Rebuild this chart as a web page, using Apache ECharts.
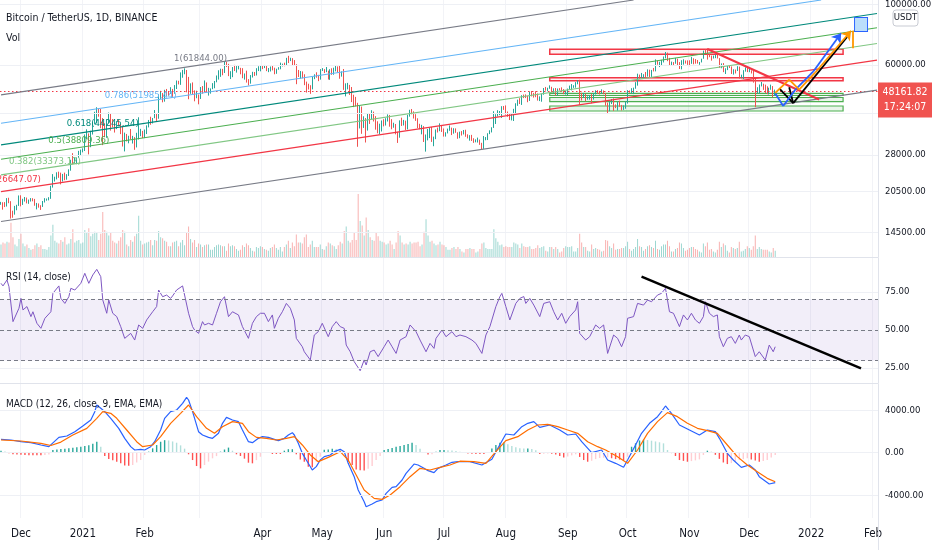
<!DOCTYPE html>
<html><head><meta charset="utf-8">
<script src="https://cdn.jsdelivr.net/npm/echarts@6/dist/echarts.min.js"></script>
<style>html,body{margin:0;padding:0;background:#fff}#c{width:932px;height:550px}</style>
</head><body><div id="c"></div>
<script>
// ---------- categories ----------
const startDate = '2020-11-21';
const dayCount = 440;
const monthNames = ['Jan','Feb','Mar','Apr','May','Jun','Jul','Aug','Sep','Oct','Nov','Dec'];
const hiddenMonthLabels = ['2021-03-01'];

// ---------- daily candles (thousand USDT) ----------
const firstOpenK = 18.68;
const closeK = [
18.72,18.40,18.37,19.16,18.72,17.15,17.14,17.72,18.18,19.70,
18.76,19.21,19.42,18.65,19.15,19.36,19.17,18.32,18.55,18.25,18.03,18.80,19.17,19.27,19.43,21.34,22.80,23.11,23.82,23.45,22.71,23.81,23.23,23.72,24.69,26.49,26.28,27.08,27.38,28.88,28.92,
29.33,32.18,33.00,31.99,33.95,36.77,39.41,40.58,40.09,38.15,35.40,34.05,37.37,39.14,36.77,36.01,35.80,36.63,35.89,35.47,30.85,32.95,32.08,32.26,32.25,32.51,30.40,33.47,34.26,34.26,33.11,
33.52,35.51,37.47,36.93,38.29,39.26,38.87,46.45,46.51,44.84,47.97,47.41,47.23,48.59,47.93,49.16,52.15,51.68,55.89,55.92,57.41,54.20,48.89,49.68,47.02,46.11,46.16,45.24,
49.61,48.45,50.35,48.37,48.75,48.88,50.97,52.38,54.88,55.86,57.80,57.23,61.19,59.00,55.63,56.90,58.91,57.66,58.08,58.10,57.35,54.10,54.34,52.30,51.30,55.06,55.84,55.78,57.63,58.77,58.80,
58.73,58.99,57.06,58.20,59.13,57.99,56.00,58.09,58.10,59.77,59.96,59.84,63.59,62.96,63.18,61.34,60.01,56.15,55.66,56.47,53.80,51.70,51.19,50.10,49.06,54.03,55.04,54.88,53.58,57.80,
57.83,56.63,57.17,53.20,57.44,56.40,57.36,58.84,58.28,55.82,56.67,49.38,49.70,49.90,46.76,46.43,43.59,42.91,37.00,40.55,37.29,37.50,34.77,38.71,38.40,39.29,38.55,35.66,34.66,35.68,37.34,
36.69,37.57,39.19,36.85,35.52,35.80,33.55,33.38,37.39,36.69,37.34,35.55,39.02,40.52,40.14,38.35,38.09,35.82,35.48,35.60,31.68,32.51,33.68,34.66,31.59,32.28,34.70,34.49,35.91,35.04,
33.54,33.82,34.67,35.29,33.69,34.22,33.86,32.88,33.81,33.51,34.26,33.09,32.73,32.82,31.78,31.42,31.52,31.78,30.84,29.79,32.14,32.31,33.58,34.29,35.40,37.28,39.46,40.00,40.02,42.21,41.46,
39.85,39.15,38.21,39.72,40.87,42.84,44.62,43.83,46.29,45.60,45.55,44.43,47.83,47.10,47.05,45.98,44.69,44.74,46.76,49.34,48.87,49.29,49.55,47.71,48.99,46.85,49.07,48.90,48.81,46.99,47.11,
48.85,49.25,49.94,49.94,51.77,52.66,46.86,46.05,46.40,44.85,45.15,46.06,44.96,47.11,48.15,47.75,47.30,48.31,47.26,42.99,40.69,43.57,44.89,42.84,42.70,43.21,42.17,41.03,41.52,43.82,
48.14,47.63,48.20,49.22,51.47,55.32,53.79,53.95,54.95,54.66,57.47,56.00,57.37,57.35,61.67,60.88,61.53,62.04,64.26,65.99,62.21,60.69,61.30,60.85,63.08,60.33,58.45,60.59,62.25,61.85,61.30,
61.00,63.23,62.94,61.45,61.01,61.53,63.27,67.53,66.93,64.88,64.81,64.15,64.40,65.50,63.62,60.10,60.36,56.90,58.08,59.70,58.72,56.28,57.57,57.16,58.96,53.73,54.72,57.27,57.81,56.95,
57.18,56.48,53.60,49.15,49.40,50.44,50.59,50.47,47.55,47.14,49.39,50.09,46.70,48.16182];
const highK = [
18.81,18.75,18.77,19.42,19.48,18.92,17.46,18.18,18.35,19.86,
19.89,19.31,19.60,19.51,19.18,19.42,19.40,19.29,18.64,18.56,18.28,18.95,19.41,19.35,19.57,21.56,23.80,23.28,24.17,24.30,24.10,23.84,24.10,23.79,24.79,26.87,28.42,27.41,27.41,28.99,29.30,
29.60,33.30,34.79,33.60,34.36,36.94,40.37,41.95,41.38,41.35,38.27,36.63,37.85,40.10,39.70,37.95,36.85,37.30,37.85,36.40,35.60,33.83,33.45,32.94,34.88,32.92,32.56,33.78,38.53,34.93,34.33,
34.72,35.98,37.66,38.71,38.31,40.96,39.70,46.80,48.20,47.31,48.63,48.98,48.15,49.71,49.00,50.62,52.62,52.50,56.37,57.56,58.35,57.53,54.25,51.37,51.77,48.42,48.25,46.75,
49.79,50.20,52.64,51.77,49.45,49.20,51.45,52.40,54.90,57.39,58.15,58.06,61.84,61.68,60.60,56.94,58.98,60.07,59.47,59.88,58.59,58.42,55.84,57.20,53.23,55.10,56.64,56.56,58.41,59.37,59.80,
59.47,60.03,59.75,58.49,59.25,59.48,58.65,58.15,58.90,61.22,60.69,61.20,63.77,64.85,63.80,63.59,62.57,60.40,57.53,57.00,56.84,55.48,52.13,51.20,50.55,54.36,55.46,56.43,55.20,57.96,
58.45,57.93,58.98,57.20,57.91,58.36,58.65,59.50,59.30,59.60,56.85,58.00,51.37,51.57,50.70,49.80,46.64,45.80,43.55,42.45,42.20,38.85,38.27,39.92,39.80,40.90,40.41,38.90,37.24,36.49,37.50,
37.90,38.23,39.48,39.29,37.92,36.79,36.40,34.07,37.53,38.40,37.68,37.44,39.32,41.06,41.33,40.53,39.56,38.20,36.46,36.14,35.75,33.30,34.88,35.30,35.49,32.70,34.75,35.30,36.60,36.10,
35.04,33.94,35.00,35.96,35.29,35.12,35.06,33.91,34.10,34.27,34.59,34.67,33.34,33.11,33.19,32.25,31.95,32.43,31.90,31.03,32.86,32.58,33.65,34.50,35.40,40.55,39.54,40.90,40.63,42.32,42.40,
42.60,40.45,39.78,39.97,41.39,43.39,44.74,45.31,46.45,46.70,46.78,46.22,47.89,48.14,47.37,48.05,47.16,46.00,47.09,49.38,49.82,49.50,50.50,49.88,49.25,49.37,49.17,49.31,49.66,48.91,48.24,
49.15,50.40,51.05,50.56,51.90,52.78,52.92,47.40,47.36,47.03,45.99,46.45,46.88,47.25,48.45,48.49,48.18,48.83,48.37,47.34,43.64,44.00,44.98,45.20,42.97,43.92,44.35,42.79,42.60,44.13,
48.50,48.36,49.30,49.53,51.89,55.75,55.33,56.10,55.49,56.56,57.84,57.68,57.55,58.53,62.93,62.35,61.72,62.68,64.49,67.00,66.64,63.73,61.75,61.49,63.73,63.29,61.50,62.50,62.98,62.36,62.40,
62.44,64.27,63.52,63.09,62.61,61.57,63.29,67.79,68.53,69.00,65.60,65.00,64.99,65.59,66.40,63.62,60.82,60.98,58.35,59.86,60.00,59.29,57.87,57.75,59.40,59.20,55.28,57.44,58.86,59.18,
59.04,57.38,57.60,53.89,49.70,50.87,51.94,51.20,50.80,50.10,49.50,50.80,50.20,48.70];
const lowK = [
18.35,17.61,18.00,18.08,18.60,16.33,16.44,16.88,17.52,18.18,
18.11,18.33,18.86,18.57,18.50,18.86,18.90,18.20,17.65,17.91,17.57,18.02,18.71,19.00,19.05,19.30,21.23,22.35,22.75,23.06,21.82,22.35,22.60,22.70,23.43,24.50,25.86,26.10,25.88,27.32,27.85,
28.62,28.95,32.00,28.13,29.90,33.29,36.30,36.57,38.72,35.11,30.42,32.53,32.38,36.70,34.41,35.36,33.85,34.85,35.75,33.40,30.07,28.85,31.39,30.90,31.91,30.84,29.24,29.84,31.92,32.83,32.30,
32.30,33.42,35.36,36.16,36.57,38.22,37.35,38.05,45.02,43.73,43.98,46.12,46.20,47.00,45.78,47.03,48.95,50.90,50.71,53.86,55.48,47.60,44.89,47.00,46.92,44.11,45.27,43.00,
45.00,47.05,48.10,47.50,46.30,47.07,48.88,49.27,51.83,53.03,54.27,55.01,56.08,58.96,54.60,53.27,54.12,57.02,56.26,57.82,55.45,53.65,53.00,51.70,50.43,51.23,53.96,54.69,54.90,57.00,56.87,
57.93,58.45,56.96,56.48,56.79,57.33,55.47,55.70,57.66,57.87,59.28,59.37,59.83,61.00,62.02,60.00,59.60,51.00,54.20,53.41,53.60,50.58,47.50,48.75,47.00,48.80,53.22,53.87,52.33,53.01,
57.05,56.03,56.48,53.05,52.90,55.20,55.25,56.87,56.24,53.40,54.37,48.60,46.00,48.80,46.55,43.83,42.00,42.26,30.00,35.05,33.49,35.20,31.11,34.42,36.42,37.80,37.18,34.68,33.63,33.38,34.15,
35.67,35.92,37.17,35.57,34.80,35.26,33.34,31.00,32.40,35.80,35.94,34.60,34.76,38.73,39.50,38.12,37.37,35.13,34.82,33.34,31.25,28.80,31.68,32.29,31.27,30.15,32.00,33.86,34.24,34.03,
32.71,32.71,33.60,34.36,33.13,33.53,33.77,32.11,32.26,33.00,33.31,32.66,32.20,31.60,31.53,31.02,31.16,31.10,30.50,29.28,29.48,31.71,31.77,33.40,33.88,35.20,36.40,38.77,39.24,38.32,41.02,
39.42,38.69,37.64,37.51,37.33,39.85,42.45,43.10,42.78,45.33,45.34,43.77,44.25,45.97,45.52,45.67,44.38,44.20,43.96,46.65,48.28,48.03,49.05,47.60,47.15,46.36,46.37,48.37,47.78,46.86,46.71,
46.51,48.59,48.40,49.43,49.50,50.95,42.84,44.41,45.51,44.14,44.72,44.74,43.37,44.75,46.72,47.00,46.75,47.04,46.84,42.50,39.60,40.57,43.09,40.68,41.65,40.80,42.10,40.83,41.01,41.41,
43.28,47.43,47.12,46.89,49.06,50.38,53.36,53.62,53.66,54.10,54.41,53.88,54.25,56.82,56.85,60.15,58.96,59.84,61.32,63.48,62.00,60.00,59.66,59.51,60.65,59.82,58.00,57.82,60.17,60.72,60.07,
59.41,60.62,60.38,60.68,60.72,60.10,61.32,63.27,66.22,62.82,64.10,62.28,63.38,63.58,63.40,58.57,58.37,56.47,55.60,57.46,58.52,55.63,55.32,55.84,57.01,53.50,53.62,53.26,56.72,56.50,
56.46,55.84,51.68,42.00,47.10,47.10,50.04,48.60,47.32,46.85,46.75,48.64,45.67,46.30];

// ---------- volume (thousand BTC) ----------
const volumeK = [
70,80,75,85,80,190,110,70,60,100,
130,75,60,70,50,40,45,65,75,55,65,45,45,40,55,120,180,90,80,75,95,85,110,70,75,100,155,80,90,95,75,
80,150,135,160,115,130,140,135,95,130,250,150,140,120,135,90,80,75,90,110,150,140,70,60,95,85,115,130,230,90,70,
75,80,85,95,65,95,90,145,110,105,90,85,60,60,80,85,90,60,80,95,65,135,170,100,80,95,55,75,
70,55,65,70,70,40,40,55,65,70,65,60,60,35,75,60,65,60,45,35,40,65,55,75,65,50,35,30,55,50,60,
55,45,40,35,50,55,70,50,40,55,30,55,70,90,50,80,60,125,80,80,75,110,125,55,70,90,55,55,55,70,
45,40,60,80,75,65,60,45,65,85,75,145,170,90,80,95,135,95,350,200,175,120,220,150,110,95,90,135,115,90,85,
80,70,75,90,70,45,80,145,120,80,70,75,70,85,75,80,80,85,60,70,140,210,120,85,90,75,65,70,85,70,
65,55,40,40,50,55,45,55,45,30,25,45,45,50,45,45,25,30,45,75,80,50,45,45,45,155,105,85,65,70,55,
60,55,55,55,80,75,70,50,75,60,55,55,60,45,45,50,65,50,55,60,35,30,55,55,45,55,45,25,30,50,60,
55,55,60,30,30,50,130,80,55,55,35,30,70,45,50,45,40,30,35,95,90,60,50,75,40,45,45,50,50,60,
85,45,35,45,55,100,60,55,35,45,60,65,55,50,90,45,40,60,70,70,90,60,30,30,45,50,80,75,50,35,40,
50,55,55,45,40,30,25,75,60,80,40,45,30,25,40,85,55,75,65,35,25,55,50,45,50,85,30,35,45,60,
50,40,60,120,45,55,45,40,40,40,30,25,50,35];

// ---------- RSI (14, close) ----------
const rsiDay = [0,1,3,4,6,7,9,10,11,13,15,16,18,20,22,25,26,29,30,32,34,35,37,40,42,44,46,48,50,51,53,54,56,58,60,62,65,67,69,71,73,76,78,79,81,83,85,86,88,91,92,94,96,97,99,101,102,104,106,108,110,112,114,116,119,121,124,126,128,130,132,134,136,137,139,141,143,145,147,148,151,152,155,157,159,161,162,164,166,168,170,172,173,175,177,180,182,183,185,187,189,192,194,196,198,200,203,205,208,210,213,215,217,218,221,223,226,228,230,233,236,238,241,243,245,248,250,251,253,255,258,260,262,263,265,267,270,272,275,277,279,281,283,285,288,289,290,293,295,298,300,302,304,307,309,311,313,314,317,319,322,324,326,329,331,333,335,337,340,342,344,346,348,350,352,353,355,357,359,360,362,364,366,368,370,371,373,375,378,380,383,385,387,388];
const rsiValue = [80.7,79,82.9,78.5,55.5,56.6,64.3,70.8,63.2,65.4,58.8,62,54.4,51.1,57.7,62,74.1,79,70.8,67.5,71.9,77.4,76.3,80.7,87.3,80.7,86.2,89.9,85.1,69.7,61,69.7,61,58.8,52.2,44.5,47.8,43.4,53.3,51.1,56.6,62,65.4,76.3,71.9,73,70.8,72.4,76.3,79,79.6,61,52.2,50,47.8,55.5,53.3,54.4,53.3,61,68.6,71.9,58.8,62,59.9,52.2,44.5,54.4,58.8,61,61,55.5,59.9,51.1,57.7,62,67.5,64.3,56.6,44.5,39,35.7,30.3,46.7,48.9,54.4,53.3,45.6,52.2,55.5,52.2,51.1,40.1,35.7,29.2,23.2,30.3,27,35.7,36.8,32.5,39,43.4,39,34.6,43.4,45.6,53.3,48.9,43.4,35.7,41.2,37.9,44.5,50,45.6,48.9,45.6,46.7,45.6,43.4,41.2,34.6,46.7,52.2,65.4,71.9,74.1,65.4,56.6,67.5,70.8,72,67.5,70.8,66.4,58.8,67.5,68.6,62,56.6,61,54.4,58.8,63.2,68.6,47.8,43.4,45.6,53.3,51.1,53.3,34.6,46.7,44.5,39,45.6,57.7,58.8,67.5,66.4,69.7,68.6,73,74.1,77.4,62,61,52.2,59.9,56.6,61,56.6,54.4,58.8,68.6,61,58.8,59.9,45.6,39,44.5,45.6,41.2,46.7,43.4,46.7,45.6,32.5,35.7,30.3,40.1,35.7,39];

// ---------- MACD (12, 26, 9) ----------
const macdDay = [0,5,10,15,20,24,29,33,37,41,45,47,48,50,52,55,59,62,65,67,70,72,75,77,80,82,85,88,91,93,94,96,99,101,104,106,109,111,113,116,119,121,124,126,129,131,134,137,139,142,144,146,147,149,151,153,156,158,160,162,165,167,170,172,174,177,179,182,183,186,188,191,193,196,198,201,203,207,209,212,214,217,219,223,226,229,230,235,241,246,249,253,257,261,264,267,270,275,280,284,288,291,296,301,304,308,312,314,318,321,325,329,331,333,336,340,345,350,354,358,360,364,367,371,375,378,380,385,388];
const macdValue = [1258,1195,1038,944,725,568,1442,1572,1979,2513,3080,3862,4492,4178,3862,3234,2293,1352,568,254,317,254,568,1038,2136,3234,3862,4016,4647,5210,4960,3862,1979,1666,1442,1352,1824,2765,3328,3080,2922,2136,1038,944,1352,1509,1442,1258,1132,1352,1666,1887,1666,881,-60,-687,-1628,-1313,-687,-373,-216,97,317,97,-1001,-2256,-3513,-4611,-5082,-4831,-4611,-4453,-3826,-3263,-3199,-2571,-1943,-1065,-1160,-1471,-1691,-1880,-1471,-1160,-906,-844,-781,-844,-1160,-624,411,1760,1666,2450,2765,2922,2387,2607,2136,1666,1760,1038,3,254,-687,-1001,-1377,-687,725,1824,2765,3391,3862,4396,3705,2607,2136,1666,2136,1979,1352,-60,-687,-1377,-1160,-1628,-2256,-2946,-2821];
const signalDay = [0,10,20,25,30,36,43,48,51,55,58,63,68,71,76,80,85,90,94,98,103,107,111,116,121,124,128,133,138,143,147,151,155,159,164,170,174,178,182,187,191,195,200,205,210,215,220,225,230,237,243,248,253,259,264,269,274,279,284,289,294,299,303,309,314,319,324,329,334,339,344,349,354,359,364,369,374,379,384,388];
const signalValue = [1195,1101,881,680,1000,1666,2293,3234,3862,3705,3234,2136,1038,568,725,1509,2765,3705,4492,3391,2293,1824,2450,2922,2765,1979,1442,1352,1195,1352,1509,725,-216,-844,-436,97,-687,-2099,-3513,-4297,-4391,-3983,-3199,-2256,-1471,-1628,-1377,-1160,-800,-844,-1001,97,1132,1509,2136,2607,2670,2450,2136,1824,1038,568,254,-373,-1001,254,1824,2922,3768,3391,2765,2293,2073,1824,725,-373,-1160,-1785,-2413,-2727];
const histStep = 2;
const histValue = [
190,120,-60,-150,-180,-200,-220,-250,-250,-250,
-250,-220,-170,250,300,340,380,420,470,520,
560,620,690,850,1035,560,-300,-600,-720,-850,
-1000,-1200,-1230,-1160,-920,-690,-220,100,410,720,
1030,1180,1150,1060,940,690,380,-150,-690,-1255,
-1475,-1160,-840,-530,-320,100,300,480,190,-150,
-310,-560,-940,-1000,-700,-380,40,30,-125,-125,
-125,190,330,330,-150,-640,-850,-1318,-1380,-850,
-380,270,310,370,350,240,90,-850,-1160,-1570,
-1650,-1670,-1500,-1255,-690,-310,250,350,450,560,
620,720,830,940,720,380,60,-170,-140,100,
250,250,230,200,150,90,-30,-80,-110,-125,
-125,-125,60,400,720,930,960,800,640,520,
430,400,400,350,240,-125,-100,-70,-100,-180,
-300,-440,-350,-250,-150,-400,-690,-850,-760,-600,
-500,-470,-440,-520,-600,-650,-690,-380,560,880,
1150,1230,1190,1130,1060,980,880,250,-40,-310,
-690,-770,-850,-790,-720,-630,-220,190,100,-200,
-580,-920,-1070,-980,-850,-690,-610,-530,-640,-740,
-850,-770,-690,-440,-220];

// ---------- axis ticks ----------
const priceTicks = [100000, 60000, 40000, 28000, 20500, 14500];
const priceTicksHiddenLabel = [40000];
const rsiTicks = [75, 50, 25];
const rsiBands = [70, 50, 30];
const macdTicks = [4000, 0, -4000];
const lastPrice = 48161.82;
const countdown = '17:24:07';

// ---------- drawings (day index, price) ----------
const fibNames = ['1(61844.00)','0.786(51985.44)','0.618(44245.54)','0.5(38809.36)','0.382(33373.12)','0.236(26647.07)','0'];
const fibColors = ['#787b86','#64b5f6','#00897b','#4caf50','#81c784','#f23645','#787b86'];
const fibStart = [[0,46590],[0,36640],[0,30500],[0,27010],[0,23650],[0,20520],[0,15920]];
const fibEnd = [[317,104080],[411,104080],[439,92870],[439,82240],[439,72020],[439,62520],[439,48480]];
const fibLabelAt = [[100,60060],[70,43770],[51,34720],[39,29820],[22,25010],[20,21590]];
const redBoxes = [[275,68540,422,65690],[275,53880,422,52530]];
const greenBoxes = [[275,47210,422,46330],[275,45560,422,44030],[275,42390,422,40630]];
const redTrend = [[354,68710],[410,44790]];
const bluePath = [[388,47210],[392,42390],[398,48600],[407,56690],[421,78490]];
const orangePath = [[388,47400],[395,53000],[400,48700],[408,56200],[426,80240]];
const orangeStaff = [[427,80240],[427,69120]];
const blackPath = [[390,49250],[397,43420],[424,76070]];
const blackTick = [[395,49670],[397,43420]];
const flagAt = [431,84570];
const rsiTrend = [[321,85.1],[431,24.8]];

// ---------- build ----------
const FONT = "'Liberation Sans Narrow','DejaVu Sans Condensed',Roboto,'Liberation Sans',sans-serif";
const UP = '#26a69a', DOWN = '#ef5350';
const cats = [];
(function(){ const p = startDate.split('-').map(Number); const t0 = Date.UTC(p[0], p[1]-1, p[2]);
  for (let i = 0; i < dayCount; i++) cats.push(new Date(t0 + i*86400000).toISOString().slice(0,10)); })();
const isMonthStart = (i, v) => v.slice(8) === '01';
const showMonthLabel = (i, v) => isMonthStart(i, v) && hiddenMonthLabels.indexOf(v) < 0;
const fmtMonth = v => v.slice(5) === '01-01' ? v.slice(0,4) : monthNames[+v.slice(5,7)-1];

const ohlc = closeK.map((c, i) => {
  const o = i ? closeK[i-1] : firstOpenK;
  return [o*1000, c*1000, lowK[i]*1000, highK[i]*1000].map(v => Math.round(v*100)/100);
});
const vol = volumeK.map((v, i) => ({ value: v, itemStyle: { color: ohlc[i][1] >= ohlc[i][0] ? 'rgba(38,166,154,0.45)' : 'rgba(239,83,80,0.45)' } }));
const rsiData = rsiDay.map((d, i) => [d, rsiValue[i]]);
const macdData = macdDay.map((d, i) => [d, macdValue[i]]);
const signalData = signalDay.map((d, i) => [d, signalValue[i]]);
const histData = histValue.map((v, i) => {
  const p = i ? histValue[i-1] : v;
  const col = v >= 0 ? (v >= p ? '#26a69a' : '#b2dfdb') : (v <= p ? '#ff5252' : '#ffcdd2');
  return { value: [i*histStep, v], itemStyle: { color: col } };
});

const axisLabelStyle = { color: '#131722', fontSize: 9.5, fontFamily: FONT };
function tickLine(v, text, showLabel) {
  return { yAxis: v, lineStyle: { color: '#eef0f5', width: 1, type: 'solid' },
    label: Object.assign({ show: showLabel, position: 'end', distance: 7, formatter: text }, axisLabelStyle) };
}
function seg(a, b, color, width, arrow) {
  return [{ coord: a, lineStyle: { color: color, width: width, type: 'solid' }, symbol: 'none' },
          { coord: b, symbol: arrow ? 'arrow' : 'none', symbolSize: arrow ? 9 : 0 }];
}
function path(pts, color, width, arrow) {
  const out = [];
  for (let i = 1; i < pts.length; i++) out.push(seg(pts[i-1], pts[i], color, width, arrow && i === pts.length - 1));
  return out;
}

const priceLines = [].concat(
  priceTicks.map(v => tickLine(v, v.toFixed(2), priceTicksHiddenLabel.indexOf(v) < 0)),
  [{ yAxis: lastPrice, lineStyle: { color: '#f23645', width: 1, type: [1.5, 2.5] }, label: { show: false } }],
  fibStart.map((s, i) => seg(s, fibEnd[i], fibColors[i], 1.1, false)),
  [seg(redTrend[0], redTrend[1], '#f23645', 2, false)],
  path(blackPath, '#000000', 1.8, false),
  [seg(blackTick[0], blackTick[1], '#000000', 1.8, false)],
  path(bluePath, '#2962ff', 1.8, true),
  path(orangePath, '#ff9800', 1.8, true),
  [seg(orangeStaff[0], orangeStaff[1], '#ff9800', 1.8, false)]
);
const boxAreas = [].concat(
  redBoxes.map(b => [{ coord: [b[0], b[1]], itemStyle: { color: 'rgba(242,54,69,0.08)', borderColor: '#f23645', borderWidth: 1.5 } }, { coord: [b[2], b[3]] }]),
  greenBoxes.map(b => [{ coord: [b[0], b[1]], itemStyle: { color: 'rgba(76,175,80,0.12)', borderColor: '#4caf50', borderWidth: 1.2 } }, { coord: [b[2], b[3]] }])
);
const pricePoints = [].concat(
  fibLabelAt.map((p, i) => ({ coord: p, symbol: 'circle', symbolSize: 1, itemStyle: { color: 'rgba(0,0,0,0)' },
    label: { show: true, position: 'top', distance: 1, formatter: fibNames[i], color: fibColors[i], fontSize: 9.5, fontFamily: FONT, align: i === fibLabelAt.length - 1 ? 'right' : 'center' } })),
  [{ coord: flagAt, symbol: 'rect', symbolSize: [13, 14], itemStyle: { color: '#bbdefb', borderColor: '#2962ff', borderWidth: 1 }, label: { show: false } }],
  [{ coord: [dayCount - 1, lastPrice], symbol: 'rect', symbolSize: [54, 35], symbolOffset: [28, 9], itemStyle: { color: '#f05350' },
    label: { show: true, position: 'inside', formatter: lastPrice.toFixed(2) + '\n' + countdown, color: '#fff', fontSize: 10.5, lineHeight: 15, fontFamily: FONT } }]
);

function xAxisFor(gi, withLabels, visible) {
  return { type: 'category', gridIndex: gi, data: cats, boundaryGap: true, show: visible,
    axisLine: { show: true, lineStyle: { color: '#e0e3eb' } }, axisTick: { show: false },
    axisLabel: { show: withLabels, interval: showMonthLabel, formatter: fmtMonth, color: '#131722', fontSize: 11.5, margin: 10, fontFamily: FONT },
    splitLine: { show: true, interval: isMonthStart, lineStyle: { color: '#f2f3f7' } } };
}
function rightAxis(gi, type, min, max) {
  return { type: type, gridIndex: gi, min: min, max: max, position: 'right',
    axisLine: { show: true, lineStyle: { color: '#e0e3eb' } }, axisTick: { show: false }, axisLabel: { show: false }, splitLine: { show: false } };
}

const option = {
  animation: false,
  backgroundColor: '#ffffff',
  textStyle: { fontFamily: FONT },
  grid: [
    { left: 0, right: 54, top: 0, height: 257 },
    { left: 0, right: 54, top: 0, height: 257 },
    { left: 0, right: 54, top: 258, height: 125 },
    { left: 0, right: 54, top: 384, height: 134 }
  ],
  xAxis: [xAxisFor(0, false, true), xAxisFor(1, false, false), xAxisFor(2, false, true), xAxisFor(3, true, true)],
  yAxis: [
    rightAxis(0, 'log', 11789, 104100),
    { type: 'value', gridIndex: 1, min: 0, max: 1430, show: false },
    rightAxis(2, 'value', 15.13, 97.37),
    rightAxis(3, 'value', -6145, 6465)
  ],
  series: [
    { type: 'bar', xAxisIndex: 1, yAxisIndex: 1, data: vol, barWidth: 1, z: 1, silent: true },
    { type: 'candlestick', xAxisIndex: 0, yAxisIndex: 0, data: ohlc, barWidth: '62%', z: 3, silent: true,
      itemStyle: { color: UP, color0: DOWN, borderColor: UP, borderColor0: DOWN, borderWidth: 1 },
      markLine: { silent: true, animation: false, symbol: ['none', 'none'], label: { show: false }, data: priceLines },
      markArea: { silent: true, animation: false, label: { show: false }, data: boxAreas },
      markPoint: { silent: true, animation: false, data: pricePoints } },
    { type: 'line', xAxisIndex: 2, yAxisIndex: 2, data: rsiData, symbol: 'none', z: 3, silent: true,
      lineStyle: { color: '#7e57c2', width: 1 },
      markArea: { silent: true, animation: false, data: [[{ yAxis: rsiBands[0], itemStyle: { color: 'rgba(126,87,194,0.1)' } }, { yAxis: rsiBands[2] }]] },
      markLine: { silent: true, animation: false, symbol: ['none', 'none'], label: { show: false },
        data: [].concat(
          rsiTicks.map(v => tickLine(v, v.toFixed(2), true)),
          rsiBands.map(v => ({ yAxis: v, lineStyle: { color: '#787b86', type: [4, 3], width: 1 }, label: { show: false } })),
          [seg(rsiTrend[0], rsiTrend[1], '#000000', 2.5, false)]) } },
    { type: 'bar', xAxisIndex: 3, yAxisIndex: 3, data: histData, barWidth: 1.4, z: 2, silent: true,
      markLine: { silent: true, animation: false, symbol: ['none', 'none'], label: { show: false },
        data: macdTicks.map(v => tickLine(v, v.toFixed(2), true)) } },
    { type: 'line', xAxisIndex: 3, yAxisIndex: 3, data: macdData, symbol: 'none', z: 3, silent: true, lineStyle: { color: '#2962ff', width: 1.2 } },
    { type: 'line', xAxisIndex: 3, yAxisIndex: 3, data: signalData, symbol: 'none', z: 3, silent: true, lineStyle: { color: '#ff6d00', width: 1.2 } }
  ],
  graphic: [
    { type: 'text', x: 6, y: 18, z: 100, style: { text: 'Bitcoin / TetherUS, 1D, BINANCE', font: '10.5px ' + FONT, fill: '#131722', verticalAlign: 'middle' } },
    { type: 'text', x: 6, y: 38, z: 100, style: { text: 'Vol', font: '10.5px ' + FONT, fill: '#131722', verticalAlign: 'middle' } },
    { type: 'text', x: 6, y: 277, z: 100, style: { text: 'RSI (14, close)', font: '10px ' + FONT, fill: '#131722', verticalAlign: 'middle' } },
    { type: 'text', x: 6, y: 404, z: 100, style: { text: 'MACD (12, 26, close, 9, EMA, EMA)', font: '10px ' + FONT, fill: '#131722', verticalAlign: 'middle' } },
    { type: 'rect', z: 100, shape: { x: 893, y: 10, width: 25, height: 16, r: 3 }, style: { fill: '#ffffff', stroke: '#c8cbd3', lineWidth: 1 } },
    { type: 'text', x: 905.5, y: 18, z: 101, style: { text: 'USDT', font: '9.5px ' + FONT, fill: '#131722', align: 'center', verticalAlign: 'middle' } },
    { type: 'line', z: 100, shape: { x1: 878.5, y1: 518, x2: 878.5, y2: 550 }, style: { stroke: '#e0e3eb', lineWidth: 1 } }
  ]
};
const chart = echarts.init(document.getElementById('c'), null, { renderer: 'canvas', width: 932, height: 550 });
chart.setOption(option);
</script>
</body></html>
